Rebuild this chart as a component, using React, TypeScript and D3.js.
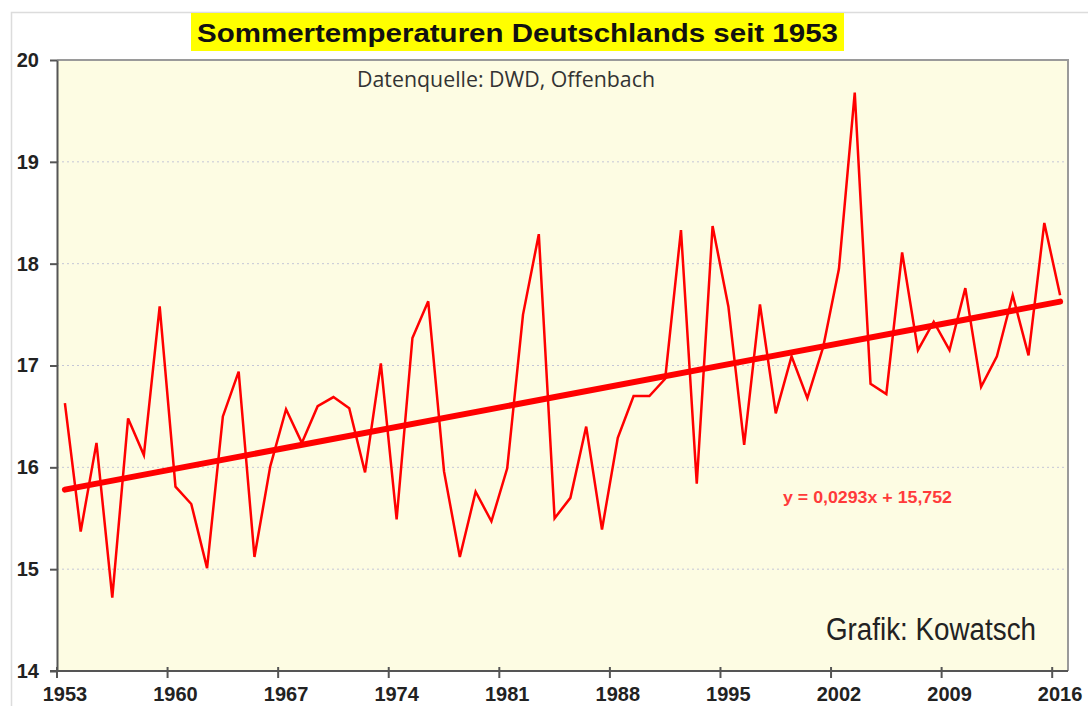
import * as d3 from 'd3';
import {useEffect, useRef} from 'react';

const years = d3.range(1953, 2017);
const temps = [
    16.63, 15.37, 16.24, 14.72, 16.48, 16.12, 17.58, 15.81, 15.64, 15.01,
    16.50, 16.94, 15.12, 16.01, 16.57, 16.24, 16.60, 16.69, 16.58, 15.95,
    17.02, 15.49, 17.27, 17.63, 15.96, 15.12, 15.76, 15.47, 15.99, 17.50,
    18.29, 15.50, 15.70, 16.40, 15.39, 16.29, 16.70, 16.70, 16.87, 18.33,
    15.84, 18.37, 17.58, 16.22, 17.60, 16.53, 17.09, 16.68, 17.18, 17.95,
    19.68, 16.82, 16.72, 18.11, 17.15, 17.43, 17.15, 17.76, 16.79, 17.09,
    17.69, 17.10, 18.40, 17.69
];
const yTicks = [14, 15, 16, 17, 18, 19, 20];
const xTickYears = [1953, 1960, 1967, 1974, 1981, 1988, 1995, 2002, 2009, 2016];

// Excel-Trendlinie, x = 1..n
const trendSlope = 0.0293;
const trendIntercept = 15.752;

const title = 'Sommertemperaturen Deutschlands seit 1953';
const subtitle = 'Datenquelle: DWD, Offenbach';
const equation = 'y = 0,0293x + 15,752';
const credit = 'Grafik: Kowatsch';

const FONT = '"Liberation Sans", Arial, sans-serif';

export default function App() {
    const width = 1088;
    const height = 706;
    const svgRef = useRef(null);

    useEffect(() => {
        const svg = d3.select(svgRef.current);
        svg.selectAll('*').remove();

        const left = 57, right = 1068, top = 60, bottom = 671;

        const x = d3.scaleBand().domain(years).range([left, right]).padding(0);
        const y = d3.scaleLinear().domain([14, 20]).range([bottom, top]);
        const cx = d => x(d) + x.bandwidth() / 2;

        // outer frame
        svg.append('rect').attr('width', width).attr('height', height).attr('fill', '#fff');
        svg.append('path')
            .attr('d', `M11.5,${height} V12.5 H${width}`)
            .attr('fill', 'none').attr('stroke', '#dcdcdc').attr('stroke-width', 1.5);

        // title
        svg.append('rect')
            .attr('x', 191).attr('y', 13).attr('width', 653).attr('height', 38)
            .attr('fill', '#ffff00');
        svg.append('text')
            .attr('x', 517.5).attr('y', 42)
            .attr('text-anchor', 'middle')
            .attr('font-family', FONT).attr('font-weight', 'bold').attr('font-size', 26)
            .attr('textLength', 641).attr('lengthAdjust', 'spacingAndGlyphs')
            .attr('fill', '#111')
            .text(title);

        // plot background
        svg.append('rect')
            .attr('x', left).attr('y', top).attr('width', right - left).attr('height', bottom - top)
            .attr('fill', '#fdfce3');

        // gridlines
        svg.append('g').selectAll('line')
            .data(yTicks.filter(t => t > 14 && t < 20))
            .enter().append('line')
            .attr('x1', left).attr('x2', right)
            .attr('y1', d => y(d)).attr('y2', d => y(d))
            .attr('stroke', '#c4c6d6').attr('stroke-width', 1).attr('stroke-dasharray', '2,3');

        // top + right border
        svg.append('path')
            .attr('d', `M${left},${top} H${right} V${bottom}`)
            .attr('fill', 'none').attr('stroke', '#9a9a9a').attr('stroke-width', 2);

        // y axis
        const yAxis = svg.append('g')
            .attr('transform', `translate(${left},0)`)
            .call(d3.axisLeft(y).tickValues(yTicks).tickFormat(d3.format('d'))
                .tickSize(7).tickPadding(11).tickSizeOuter(0));
        yAxis.select('.domain').attr('stroke', '#555').attr('stroke-width', 2);
        yAxis.selectAll('.tick line').attr('stroke', '#555').attr('stroke-width', 2);
        yAxis.selectAll('.tick text')
            .attr('font-family', FONT).attr('font-weight', 'bold').attr('font-size', 20)
            .attr('fill', '#222');

        // x axis (ticks between categories, labels centred)
        svg.append('line')
            .attr('x1', left - 7).attr('x2', right)
            .attr('y1', bottom).attr('y2', bottom)
            .attr('stroke', '#555').attr('stroke-width', 2);
        const xt = svg.append('g').selectAll('g').data(xTickYears).enter().append('g');
        xt.append('line')
            .attr('x1', d => x(d)).attr('x2', d => x(d))
            .attr('y1', bottom - 4).attr('y2', bottom + 7)
            .attr('stroke', '#555').attr('stroke-width', 2);
        xt.append('text')
            .attr('x', d => cx(d)).attr('y', bottom + 30)
            .attr('text-anchor', 'middle')
            .attr('font-family', FONT).attr('font-weight', 'bold').attr('font-size', 20)
            .attr('fill', '#222')
            .text(d => d);

        // data line
        const line = d3.line().x((d, i) => cx(years[i])).y(d => y(d));
        svg.append('path')
            .datum(temps)
            .attr('d', line)
            .attr('fill', 'none').attr('stroke', '#ff0000').attr('stroke-width', 2.5)
            .attr('stroke-linejoin', 'miter');

        // trend line
        const n = years.length;
        const trend = [1, n].map(i => [cx(years[i - 1]), y(trendSlope * i + trendIntercept)]);
        svg.append('path')
            .attr('d', d3.line()(trend))
            .attr('fill', 'none').attr('stroke', '#ff0000').attr('stroke-width', 6)
            .attr('stroke-linecap', 'round');

        // annotations
        svg.append('text')
            .attr('x', 357).attr('y', 87)
            .attr('font-family', '"Open Sans", "Noto Sans", sans-serif').attr('font-size', 21)
            .attr('textLength', 298).attr('lengthAdjust', 'spacingAndGlyphs')
            .attr('fill', '#333')
            .text(subtitle);

        svg.append('text')
            .attr('x', 783).attr('y', 503)
            .attr('font-family', FONT).attr('font-weight', 'bold').attr('font-size', 16)
            .attr('textLength', 169).attr('lengthAdjust', 'spacingAndGlyphs')
            .attr('fill', '#ff3a3a')
            .text(equation);

        svg.append('text')
            .attr('x', 826).attr('y', 640)
            .attr('font-family', FONT).attr('font-size', 31)
            .attr('textLength', 210).attr('lengthAdjust', 'spacingAndGlyphs')
            .attr('fill', '#222')
            .text(credit);
    }, []);

    return (
        <svg ref={svgRef} width={width} height={height}
             style={{position: 'absolute', left: 0, top: 0, display: 'block'}}></svg>
    );
}
